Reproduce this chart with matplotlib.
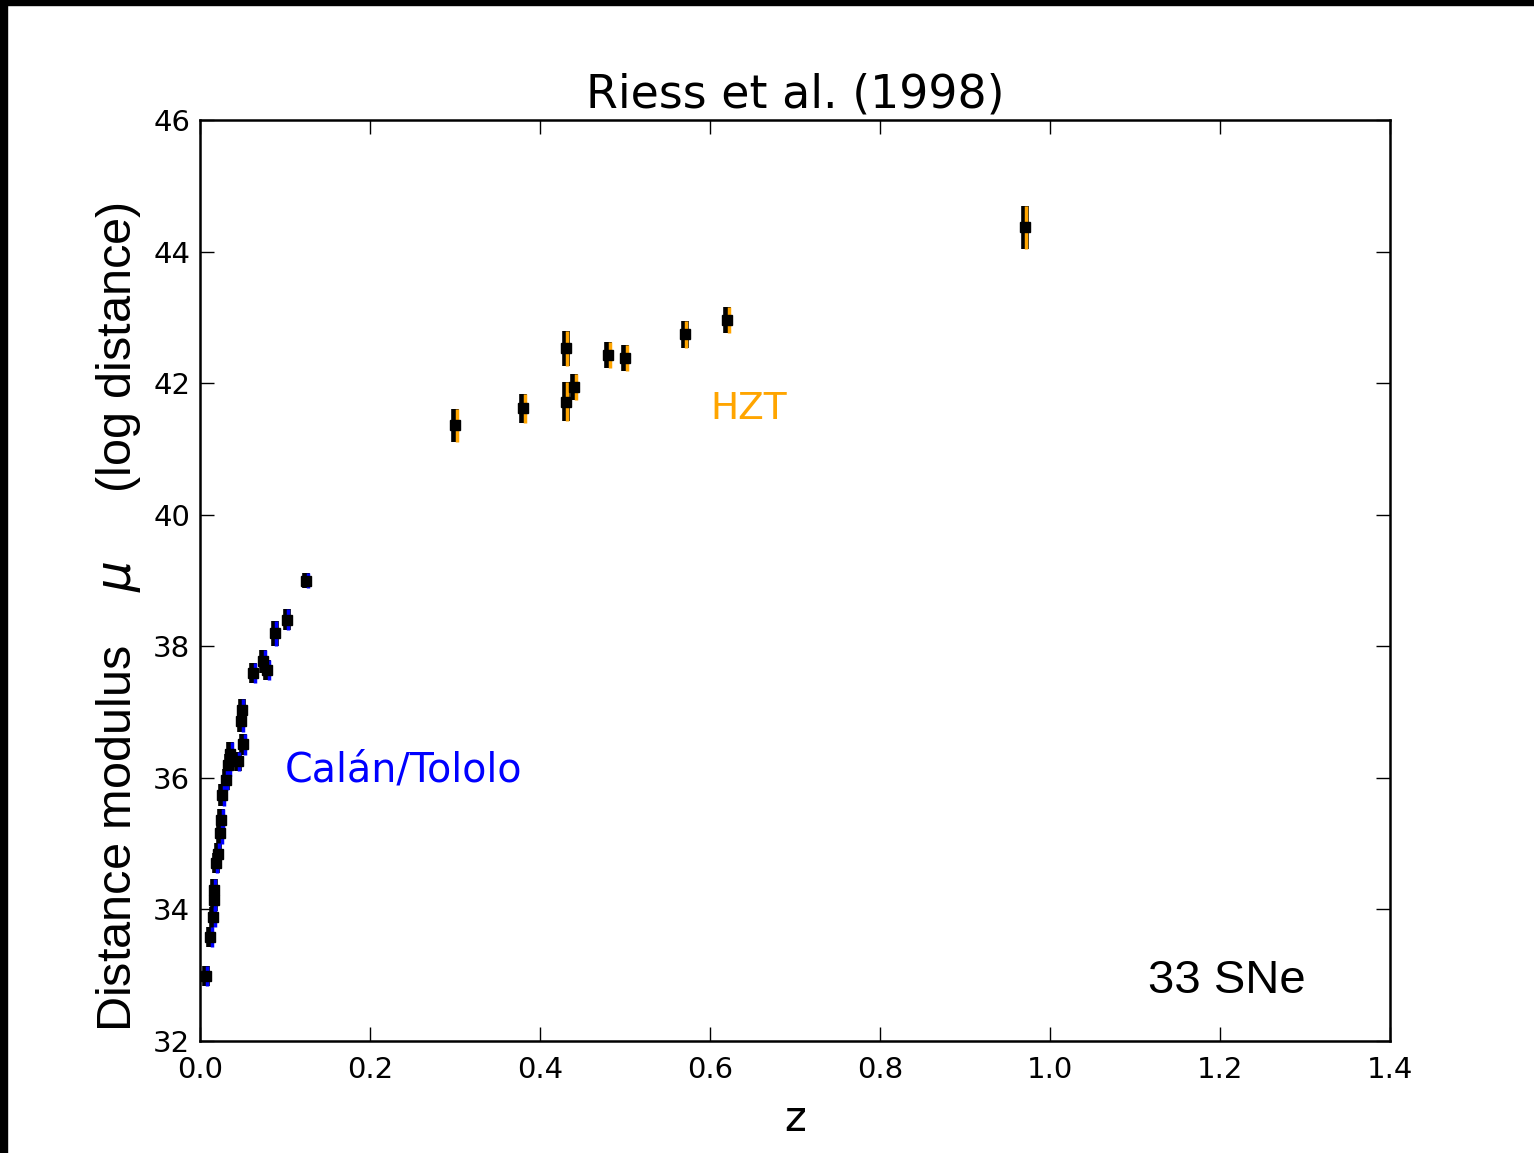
import matplotlib
matplotlib.use("Agg")
import matplotlib.pyplot as plt
from matplotlib.patches import Rectangle
import matplotlib.transforms as mtransforms
import numpy as np

# Calán/Tololo (low-z) sample
lowz_z = [0.0065, 0.0118, 0.0157, 0.0160, 0.0162, 0.0184, 0.0208, 0.0235, 0.0247,
          0.0263, 0.0300, 0.0333, 0.0353, 0.0443, 0.0490, 0.0485, 0.0510, 0.0627,
          0.0745, 0.0790, 0.0880, 0.1020, 0.1247]
lowz_mu = [32.99, 33.58, 33.89, 34.14, 34.30, 34.71, 34.85, 35.16, 35.36,
           35.74, 35.97, 36.20, 36.37, 36.25, 37.03, 36.86, 36.51, 37.59,
           37.77, 37.64, 38.20, 38.40, 39.00]
lowz_err = [0.15, 0.15, 0.15, 0.17, 0.17, 0.15, 0.16, 0.17, 0.16,
            0.17, 0.16, 0.17, 0.17, 0.15, 0.17, 0.17, 0.16, 0.15,
            0.17, 0.15, 0.19, 0.16, 0.12]

# High-z Supernova Team (HZT) sample
hzt_z = [0.30, 0.38, 0.43, 0.43, 0.44, 0.48, 0.50, 0.57, 0.62, 0.97]
hzt_mu = [41.36, 41.62, 42.53, 41.72, 41.94, 42.43, 42.38, 42.74, 42.96, 44.37]
hzt_err = [0.25, 0.22, 0.27, 0.30, 0.20, 0.20, 0.20, 0.21, 0.20, 0.33]

xticks = [0.0, 0.2, 0.4, 0.6, 0.8, 1.0, 1.2, 1.4]
yticks = [32, 34, 36, 38, 40, 42, 44, 46]

W, H = 1534, 1153
fig = plt.figure(figsize=(W / 100, H / 100), dpi=100)
ax = fig.add_axes([200 / W, 1 - 1041 / H, 1190 / W, 921 / H])

def draw(z, mu, err, color):
    ax.errorbar(z, mu, yerr=err, fmt='none', ecolor='black', elinewidth=5.5,
                capsize=0, zorder=2)
    off = mtransforms.offset_copy(ax.transData, fig=fig, x=1.2, y=0, units='points')
    ax.errorbar(z, mu, yerr=err, fmt='none', ecolor=color, elinewidth=2.5,
                capsize=0, zorder=3, transform=off)
    ax.plot(z, mu, 's', color='black', ms=7.5, mec='black', zorder=4)

draw(lowz_z, lowz_mu, lowz_err, 'blue')
draw(hzt_z, hzt_mu, hzt_err, 'orange')

ax.set_xlim(0, 1.4)
ax.set_ylim(32, 46)
ax.set_xticks(xticks)
ax.set_yticks(yticks)
ax.set_xticklabels([f"{t:.1f}" for t in xticks])
ax.set_yticklabels([str(t) for t in yticks])
ax.tick_params(direction='in', top=True, right=True, length=10, width=1,
               labelsize=21, pad=7)
ax.tick_params(axis='x', pad=11)
for s in ax.spines.values():
    s.set_linewidth(1.8)

ax.set_title("Riess et al. (1998)", fontsize=33, pad=9)
ax.set_xlabel("z", fontsize=30, labelpad=10)
ax.set_ylabel(r"Distance modulus    $\mu$     (log distance)",
              fontsize=35, family=['Liberation Sans Narrow', 'Liberation Sans', 'DejaVu Sans'],
              va='center')
ax.yaxis.set_label_coords((119 - 200) / 1190, (1041 - 617) / 921)

ax.text(0.10, 35.94, "Calán/Tololo", color='blue', fontsize=28.5, va='baseline', ha='left')
ax.text(0.60, 41.45, "HZT", color='orange', fontsize=27, va='baseline', ha='left')
ax.text(1148, H - 993, "33 SNe", fontsize=34, family=['Liberation Sans', 'DejaVu Sans'],
        transform=None, ha='left', va='baseline')

# black frame strips at top and left edges
fig.patches.append(Rectangle((0, 1 - 5 / H), 1, 5 / H, transform=fig.transFigure,
                             color='black', zorder=10))
fig.patches.append(Rectangle((0, 0), 7 / W, 1, transform=fig.transFigure,
                             color='black', zorder=10))

fig.savefig("out.png", dpi=100)
